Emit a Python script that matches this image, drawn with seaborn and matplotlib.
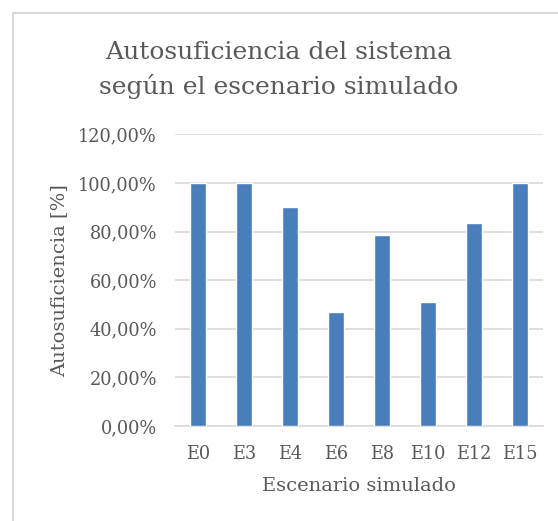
import matplotlib
matplotlib.use("Agg")
import matplotlib.pyplot as plt
import seaborn as sns
import pandas as pd
from matplotlib.lines import Line2D
from matplotlib.ticker import FuncFormatter

escenarios = ["E0", "E3", "E4", "E6", "E8", "E10", "E12", "E15"]
autosuficiencia = [100.0, 100.0, 90.0, 47.0, 78.5, 51.2, 83.5, 100.0]
y_ticks = [0, 20, 40, 60, 80, 100, 120]

df = pd.DataFrame({"Escenario": escenarios, "Autosuficiencia": autosuficiencia})

sns.set_theme(style="white")
plt.rcParams['font.family'] = ['DejaVu Serif']

W, H = 558, 521
fig = plt.figure(figsize=(W / 100, H / 100), dpi=100)
ax = fig.add_axes([175 / W, 1 - 426 / H, 368 / W, (426 - 134.4) / H])

text_color = "#595959"
sns.barplot(data=df, x="Escenario", y="Autosuficiencia", color="#4A7EBB",
            saturation=1, width=0.33, ax=ax, zorder=3)

ax.set_ylim(0, 120)
ax.set_xlim(-0.5, len(escenarios) - 0.5)
ax.set_yticks(y_ticks)
ax.yaxis.set_major_formatter(FuncFormatter(lambda v, p: f"{v:.2f}".replace(".", ",") + "%"))
ax.grid(axis="y", color="#D9D9D9", linewidth=1.2, zorder=0)
ax.grid(axis="x", visible=False)
for s in ["top", "right", "left"]:
    ax.spines[s].set_visible(False)
ax.spines["bottom"].set_color("#D9D9D9")
ax.spines["bottom"].set_linewidth(1.2)
ax.tick_params(axis="both", length=0, labelsize=12.8, colors=text_color)
ax.tick_params(axis="y", pad=13)
ax.tick_params(axis="x", pad=14)
ax.set_xlabel("Escenario simulado", fontsize=14, color=text_color, labelpad=10)
ax.set_ylabel("Autosuficiencia [%]", fontsize=14, color=text_color, labelpad=7)

fig.text(279 / W, 1 - 70 / H, "Autosuficiencia del sistema\nsegún el escenario simulado",
         ha="center", va="center", fontsize=18, color=text_color, linespacing=1.5)

# outer frame (top and left edges visible)
fig.add_artist(Line2D([12.5 / W, 1], [1 - 12.5 / H, 1 - 12.5 / H], color="#D9D9D9", lw=1.5,
                      transform=fig.transFigure))
fig.add_artist(Line2D([12.5 / W, 12.5 / W], [0, 1 - 12.5 / H], color="#D9D9D9", lw=1.5,
                      transform=fig.transFigure))

fig.savefig("out.png", dpi=100, facecolor="white")
